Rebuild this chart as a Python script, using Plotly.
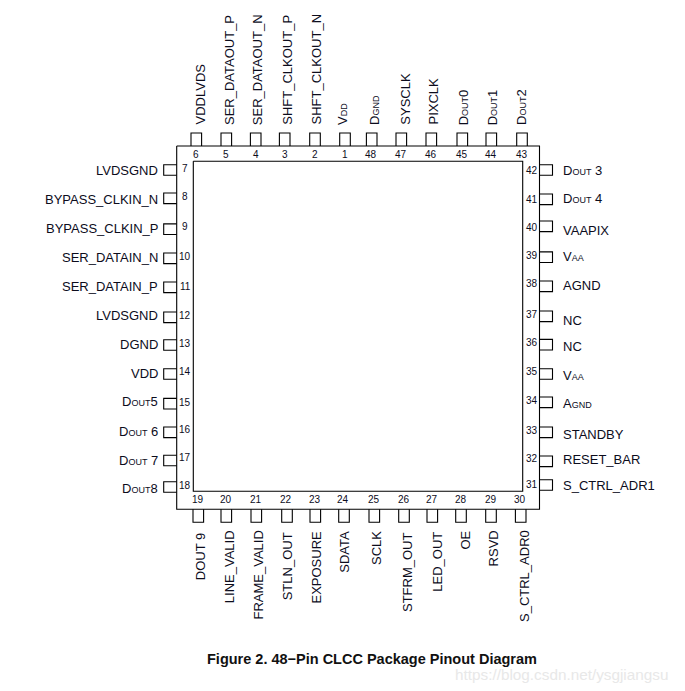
import re
import plotly.graph_objects as go

# Pin names (lowercase letters are set as small capitals), numbers, and measured positions in picture pixels
top_numbers = [6, 5, 4, 3, 2, 1, 48, 47, 46, 45, 44, 43]
top_names = ["VDDLVDS", "SER_DATAOUT_P", "SER_DATAOUT_N", "SHFT_CLKOUT_P", "SHFT_CLKOUT_N", "Vdd",
             "Dgnd", "SYSCLK", "PIXCLK", "Dout0", "Dout1", "Dout2"]
top_pins = [196.3, 226.3, 255.7, 284.7, 315, 345, 371.7, 401.3, 431.3, 462.3, 491.3, 522]
top_num_pos = [196.3, 226.3, 255.7, 285, 315, 345, 371.3, 401.3, 431.3, 462.3, 491.3, 522]
top_label_pos = [200, 229, 257.7, 286.7, 316, 342, 374, 404.7, 433, 463.3, 492.3, 521]

bottom_numbers = [19, 20, 21, 22, 23, 24, 25, 26, 27, 28, 29, 30]
bottom_names = ["DOUT 9", "LINE_VALID", "FRAME_VALID", "STLN_OUT", "EXPOSURE", "SDATA", "SCLK",
                "STFRM_OUT", "LED_OUT", "OE", "RSVD", "S_CTRL_ADR0"]
bottom_pins = [198.3, 226.3, 256.3, 287, 315.3, 344, 374.3, 404, 432.3, 461, 491, 520.7]
bottom_num_pos = [198, 226.3, 256.3, 286.3, 314.7, 343.3, 373.7, 404, 432.3, 461, 491, 520]
bottom_label_pos = [200.7, 229, 258.3, 287.3, 316.3, 345, 376.3, 407, 436.7, 465.3, 493.7, 524.3]
bottom_label_top = [533, 530.7, 530.7, 532, 530.7, 530.7, 530.7, 532, 532, 530.7, 530.7, 529.7]

left_numbers = [7, 8, 9, 10, 11, 12, 13, 14, 15, 16, 17, 18]
left_names = ["LVDSGND", "BYPASS_CLKIN_N", "BYPASS_CLKIN_P", "SER_DATAIN_N", "SER_DATAIN_P", "LVDSGND",
              "DGND", "VDD", "Dout5", "Dout 6", "Dout 7", "Dout8"]
left_pins = [170, 198.3, 229.2, 258.3, 287.3, 317.3, 345, 374, 403.7, 432.3, 460.5, 487]
left_num_pos = [168.3, 196.7, 226.3, 256.7, 286, 315.7, 343.7, 371.7, 402.3, 429.3, 457.7, 485.7]
left_label_pos = [170.7, 199.3, 228.7, 257.7, 286.7, 315.7, 344.7, 373.3, 401.7, 431, 460, 488.3]

right_numbers = [42, 41, 40, 39, 38, 37, 36, 35, 34, 33, 32, 31]
right_names = ["Dout 3", "Dout 4", "VAAPIX", "Vaa", "AGND", "NC", "NC", "Vaa", "Agnd", "STANDBY",
               "RESET_BAR", "S_CTRL_ADR1"]
right_pins = [170, 199.3, 226.3, 257.2, 286.3, 316.3, 344.7, 374, 402.3, 432.3, 461.3, 485]
right_num_pos = [170.7, 199.3, 227.3, 255.3, 283.3, 314, 342.7, 371.7, 400.7, 430.7, 458.7, 484.7]
right_label_pos = [170, 198.7, 230.7, 256.7, 285.7, 320.7, 346.7, 375, 403.3, 434.3, 459.3, 485.7]

outer_x = [176.7, 539.5]
outer_y = [146, 509.3]
inner_x = [193.3, 522.7]
inner_y = [161.3, 491.3]
pin_len = 13
pin_half = 5.3

title = "Figure 2. 48\u2212Pin CLCC Package Pinout Diagram"
watermark = "https://blog.csdn.net/ysgjiangsu"

FONT = "Liberation Sans"
INK = "#0c0c1c"


def caps(s):
    return re.sub(r"[a-z]+", lambda m: f"<span style='font-size:9px'>{m.group(0).upper()}</span>", s)


def box(x, y):
    return [x[0], x[1], x[1], x[0], x[0], None], [y[0], y[0], y[1], y[1], y[0], None]


xs, ys = [], []
for bx, by in ((outer_x, outer_y), (inner_x, inner_y)):
    a, b = box(bx, by)
    xs += a
    ys += b
for c in top_pins:
    xs += [c - pin_half, c - pin_half, c + pin_half, c + pin_half, None]
    ys += [outer_y[0], outer_y[0] - pin_len, outer_y[0] - pin_len, outer_y[0], None]
for c in bottom_pins:
    xs += [c - pin_half, c - pin_half, c + pin_half, c + pin_half, None]
    ys += [outer_y[1], outer_y[1] + pin_len, outer_y[1] + pin_len, outer_y[1], None]
for c in left_pins:
    xs += [outer_x[0], outer_x[0] - pin_len, outer_x[0] - pin_len, outer_x[0], None]
    ys += [c - pin_half, c - pin_half, c + pin_half, c + pin_half, None]
for c in right_pins:
    xs += [outer_x[1], outer_x[1] + pin_len, outer_x[1] + pin_len, outer_x[1], None]
    ys += [c - pin_half, c - pin_half, c + pin_half, c + pin_half, None]

fig = go.Figure(go.Scatter(x=xs, y=ys, mode="lines", line=dict(color="#000000", width=1.1), hoverinfo="skip"))


def note(x, y, text, size=13, xa="center", ya="middle", angle=0, color=INK):
    fig.add_annotation(x=x, y=y, xref="x", yref="y", text=text, showarrow=False, xanchor=xa, yanchor=ya,
                       textangle=angle, font=dict(family=FONT, size=size, color=color),
                       borderpad=0, borderwidth=0, align="center")


for n, name, px, lx in zip(top_numbers, top_names, top_num_pos, top_label_pos):
    note(px, 154.7, str(n), size=10)
    note(lx, 125, caps(name), ya="bottom", angle=-90)
for n, name, px, lx, ly in zip(bottom_numbers, bottom_names, bottom_num_pos, bottom_label_pos, bottom_label_top):
    note(px, 499.7, str(n), size=10)
    note(lx, ly, caps(name), ya="top", angle=-90)
for n, name, py, ly in zip(left_numbers, left_names, left_num_pos, left_label_pos):
    note(185, py, str(n), size=10)
    note(158, ly, caps(name), xa="right")
for n, name, py, ly in zip(right_numbers, right_names, right_num_pos, right_label_pos):
    note(531.7, py, str(n), size=10)
    note(562.7, ly, caps(name), xa="left")

fig.add_annotation(x=371.5, y=659, xref="x", yref="y", text=f"<b>{title}</b>", showarrow=False,
                   font=dict(family=FONT, size=14.5, color="#111111"))
fig.add_annotation(x=670, y=674, xref="x", yref="y", text=watermark, showarrow=False, xanchor="right",
                   font=dict(family=FONT, size=15.3, color="#e8e8e8"))

fig.update_layout(
    width=685, height=691, margin=dict(l=0, r=0, t=0, b=0),
    paper_bgcolor="white", plot_bgcolor="white", showlegend=False,
    xaxis=dict(range=[0, 685], visible=False, fixedrange=True),
    yaxis=dict(range=[691, 0], visible=False, fixedrange=True),
)
fig.write_html("out.html", config=dict(displayModeBar=False),
               post_script="document.body.style.margin='0';document.body.style.overflow='hidden';")
